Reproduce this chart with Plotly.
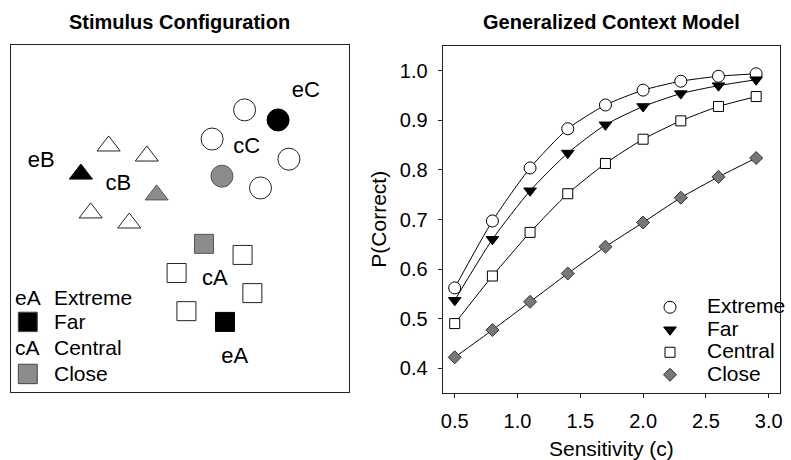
import plotly.graph_objects as go

FONT = "Liberation Sans, Arial, Helvetica, sans-serif"

# ---------------- Left panel: stimulus configuration (stimulus-space units) ----------
circle_x = [6.91, 7.90, 5.95, 8.22, 6.24, 7.38]
circle_y = [8.13, 7.84, 7.29, 6.71, 6.22, 5.88]
circle_type = ["central", "extreme", "central", "central", "close", "central"]

triangle_x = [2.89, 4.02, 2.07, 4.31, 2.36, 3.50]
triangle_y = [7.09, 6.80, 6.28, 5.68, 5.16, 4.87]
triangle_type = ["central", "central", "extreme", "close", "central", "central"]

square_x = [5.71, 6.85, 4.90, 7.14, 5.19, 6.33]
square_y = [4.27, 3.95, 3.43, 2.85, 2.33, 2.02]
square_type = ["close", "central", "central", "central", "central", "extreme"]

label_text = ["eC", "cC", "eB", "cB", "cA", "eA"]
label_x = [8.72, 6.97, 0.90, 3.18, 6.03, 6.62]
label_y = [8.67, 7.06, 6.63, 5.99, 3.23, 0.98]

# ---------------- Right panel: GCM predictions ----------------
sensitivity = [0.5, 0.8, 1.1, 1.4, 1.7, 2.0, 2.3, 2.6, 2.9]
p_extreme = [0.562, 0.697, 0.804, 0.883, 0.931, 0.961, 0.979, 0.989, 0.994]
p_far = [0.537, 0.660, 0.758, 0.834, 0.891, 0.928, 0.954, 0.970, 0.982]
p_central = [0.490, 0.586, 0.674, 0.752, 0.813, 0.862, 0.899, 0.928, 0.948]
p_close = [0.422, 0.477, 0.534, 0.591, 0.645, 0.694, 0.744, 0.786, 0.824]
series_names = ["Extreme", "Far", "Central", "Close"]
x_ticks = [0.5, 1.0, 1.5, 2.0, 2.5, 3.0]
y_ticks = [0.4, 0.5, 0.6, 0.7, 0.8, 0.9, 1.0]

GRAY = "#8c8c8c"
fill_for = {"central": "white", "extreme": "black", "close": GRAY}
line_for = {"central": "#222222", "extreme": "black", "close": "#555555"}

fig = go.Figure()

for xs, ys, types, sym, size in [
    (circle_x, circle_y, circle_type, "circle", 22),
    (triangle_x, triangle_y, triangle_type, "triangle-up", 20),
    (square_x, square_y, square_type, "square", 19),
]:
    fig.add_trace(go.Scatter(
        x=xs, y=ys, mode="markers", showlegend=False, hoverinfo="skip",
        xaxis="x", yaxis="y",
        marker=dict(symbol=sym, size=size,
                    color=[fill_for[t] for t in types],
                    line=dict(color=[line_for[t] for t in types], width=1)),
    ))

fig.add_trace(go.Scatter(
    x=label_x, y=label_y, mode="text", text=label_text, showlegend=False,
    hoverinfo="skip", xaxis="x", yaxis="y",
    textfont=dict(family=FONT, size=22, color="black"),
))

# right panel lines
styles = {
    "Extreme": dict(symbol="circle", size=12, color="white", line=dict(color="black", width=1)),
    "Far": dict(symbol="triangle-down", size=11, color="black", line=dict(color="black", width=1)),
    "Central": dict(symbol="square", size=10, color="white", line=dict(color="black", width=1)),
    "Close": dict(symbol="diamond", size=10, color="#777777", line=dict(color="#333333", width=1)),
}
for name, ys in zip(series_names, [p_extreme, p_far, p_central, p_close]):
    fig.add_trace(go.Scatter(
        x=sensitivity, y=ys, mode="lines+markers", showlegend=False,
        xaxis="x2", yaxis="y2",
        line=dict(color="black", width=1, shape="spline", smoothing=0.6),
        marker=styles[name], name=name,
    ))
for name in series_names:
    fig.add_trace(go.Scatter(
        x=[None], y=[None], mode="markers", xaxis="x2", yaxis="y2",
        marker=styles[name], showlegend=True,
        name='<span style="font-size:21px">%s</span>' % name,
    ))

ann = []
# titles
ann.append(dict(text="<b>Stimulus Configuration</b>", x=180 / 791, y=1 - 22 / 460,
                xref="paper", yref="paper", showarrow=False,
                font=dict(family=FONT, size=20, color="black"), xanchor="center", yanchor="middle"))
ann.append(dict(text="<b>Generalized Context Model</b>", x=618 / 791, y=1 - 22 / 460,
                xref="paper", yref="paper", showarrow=False,
                font=dict(family=FONT, size=20, color="black"), xanchor="center", yanchor="middle"))
# axis titles
ann.append(dict(text="Sensitivity (c)", x=618 / 791, y=1 - 448 / 460,
                xref="paper", yref="paper", showarrow=False,
                font=dict(family=FONT, size=21, color="black"), xanchor="center", yanchor="middle"))
ann.append(dict(text="P(Correct)", x=381 / 791, y=1 - 219 / 460, textangle=-90,
                xref="paper", yref="paper", showarrow=False,
                font=dict(family=FONT, size=21, color="black"), xanchor="center", yanchor="middle"))
# left legend
leg_rows = [("eA", "Extreme"), (None, "Far"), ("cA", "Central"), (None, "Close")]
leg_y = [2.71, 2.02, 1.27, 0.52]
for (sym, txt), yy in zip(leg_rows, leg_y):
    if sym:
        ann.append(dict(text=sym, x=0.50, y=yy, xref="x", yref="y", showarrow=False,
                        font=dict(family=FONT, size=21, color="black"),
                        xanchor="center", yanchor="middle"))
    ann.append(dict(text=txt, x=1.22, y=yy, xref="x", yref="y", showarrow=False,
                    font=dict(family=FONT, size=21, color="black"),
                    xanchor="left", yanchor="middle"))

shapes = []
for yy, col in [(leg_y[1], "black"), (leg_y[3], GRAY)]:
    shapes.append(dict(type="rect", xref="x", yref="y",
                       x0=0.50 - 0.28, x1=0.50 + 0.28, y0=yy - 0.28, y1=yy + 0.28,
                       fillcolor=col, line=dict(color="#444444", width=1)))

axis_common = dict(showline=True, mirror=True, linecolor="#222222", linewidth=1.2,
                   showgrid=False, zeroline=False)

fig.update_layout(
    width=791, height=460,
    margin=dict(l=0, r=0, t=0, b=0),
    paper_bgcolor="white", plot_bgcolor="white",
    font=dict(family=FONT, color="black"),
    xaxis=dict(domain=[9 / 791, 352 / 791], range=[0, 10], showticklabels=False,
               ticks="", **axis_common),
    yaxis=dict(domain=[1 - 392 / 460, 1 - 45 / 460], range=[0, 10], showticklabels=False,
               ticks="", **axis_common),
    xaxis2=dict(domain=[447 / 791, 789 / 791], range=[0.405, 3.09], anchor="y2",
                tickvals=x_ticks, tickformat=".1f", ticks="outside", ticklen=4,
                tickcolor="#222222", ticklabelstandoff=6,
                tickfont=dict(family=FONT, size=20, color="black"), **axis_common),
    yaxis2=dict(domain=[1 - 393 / 460, 1 - 46 / 460], range=[0.35, 1.05], anchor="x2",
                tickvals=y_ticks, tickformat=".1f", ticks="outside", ticklen=4,
                tickcolor="#222222", ticklabelstandoff=6,
                tickfont=dict(family=FONT, size=20, color="black"), **axis_common),
    legend=dict(x=640 / 791, y=1 - 291 / 460, xanchor="left", yanchor="top",
                bgcolor="rgba(0,0,0,0)", font=dict(family=FONT, size=15, color="black"),
                itemwidth=64, tracegroupgap=0),
    annotations=ann,
    shapes=shapes,
)

fig.write_html("out.html", config={"responsive": False, "displayModeBar": False},
               post_script="document.body.style.margin='0';document.body.style.overflow='hidden';")

with open("out.html", "r", encoding="utf-8") as f:
    html = f.read()
html = html.replace("<head>", "<head><style>html,body{margin:0;padding:0;overflow:hidden;}</style>", 1)
with open("out.html", "w", encoding="utf-8") as f:
    f.write(html)
